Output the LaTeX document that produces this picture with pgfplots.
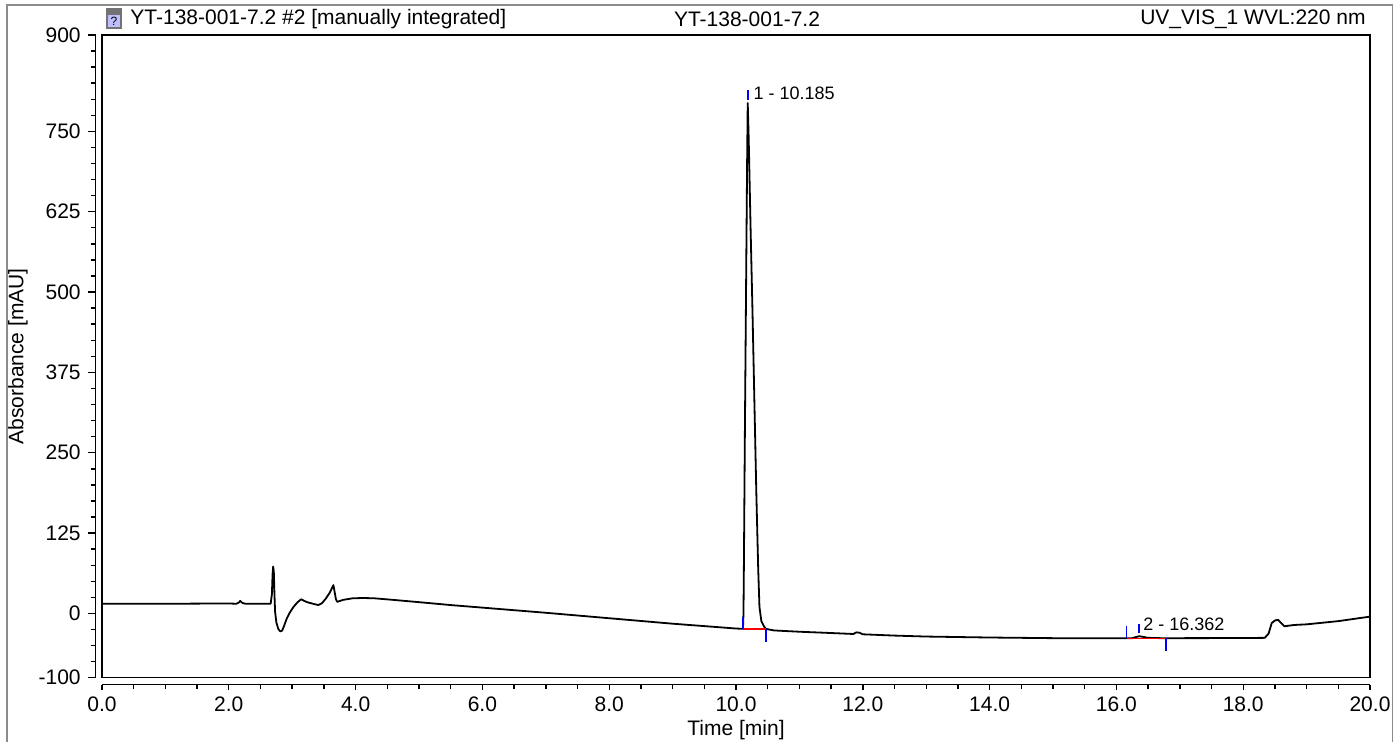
\documentclass[border=0pt]{standalone}
\usepackage{pgfplots}
\pgfplotsset{compat=1.18}
\usepackage{fontspec}
\setmainfont{Liberation Sans}
\begin{document}
\begin{tikzpicture}
\useasboundingbox (0pt,0pt) rectangle (697pt,371pt);
\draw[black!45, line width=0.8pt] (3.5pt,-3pt) -- (3.5pt,368.5pt) -- (696.3pt,368.5pt) -- (696.3pt,-3pt);
% header
\fill[black!55] (53pt,356.5pt) rectangle (61pt,367pt);
\fill[blue!25!white] (54pt,357.5pt) rectangle (60pt,363.5pt);
\node[font=\fontsize{6}{7}\selectfont, inner sep=0pt] at (57pt,360.5pt) {?};
\node[anchor=west, font=\fontsize{10.5}{12}\selectfont, inner sep=0pt] at (65pt,361.5pt) {YT-138-001-7.2 \#2 [manually integrated]};
\node[font=\fontsize{10.5}{12}\selectfont, inner sep=0pt] at (373.5pt,361.5pt) {YT-138-001-7.2};
\node[anchor=east, font=\fontsize{10.5}{12}\selectfont, inner sep=0pt] at (683pt,361.5pt) {UV\_VIS\_1 WVL:220 nm};

% x axis (offset below the frame)
\begin{axis}[at={(51pt,28.65pt)}, anchor=south west, scale only axis,
  width=634pt, height=20pt, xmin=0, xmax=20, ymin=0, ymax=1,
  axis x line*=bottom, hide y axis,
  xtick={0,2,...,20},
  xticklabels={0.0,2.0,4.0,6.0,8.0,10.0,12.0,14.0,16.0,18.0,20.0},
  minor x tick num=3, tick align=outside,
  major tick length=2.6pt, minor tick length=2.4pt,
  axis line style={line width=0.8pt}, every tick/.style={line width=0.7pt, black},
  tick label style={font=\fontsize{10.5}{12}\selectfont},
  xlabel={Time [min]},
  every axis x label/.style={at={([yshift=-22.65pt]axis description cs:0.5,0)}, anchor=center, font=\fontsize{10.5}{12}\selectfont},
]
\end{axis}

% y axis (offset left of the frame)
\begin{axis}[at={(47.85pt,32.15pt)}, anchor=south west, scale only axis,
  width=10pt, height=321.35pt, xmin=0, xmax=1, ymin=-100, ymax=900,
  axis y line*=left, hide x axis,
  ytick={-100,0,125,250,375,500,625,750,900},
  yticklabels={-100,0,125,250,375,500,625,750,900},
  minor ytick={-75,-50,-25,25,50,75,100,150,175,200,225,275,300,325,350,400,425,450,475,525,550,575,600,650,675,700,725,775,800,825,850,875},
  tick align=outside,
  major tick length=4pt, minor tick length=2.5pt,
  axis line style={line width=0.8pt}, every tick/.style={line width=0.7pt, black},
  tick label style={font=\fontsize{10.5}{12}\selectfont},
  ylabel={Absorbance [mAU]},
  every axis y label/.style={at={([xshift=-38.85pt]axis description cs:0,0.5)}, rotate=90, anchor=center, font=\fontsize{10.5}{12}\selectfont},
]
\end{axis}

% frame with data
\begin{axis}[at={(51pt,32.15pt)}, anchor=south west, scale only axis,
  width=634pt, height=321.35pt, xmin=0, xmax=20, ymin=-100, ymax=900,
  xtick=\empty, ytick=\empty, axis line style={line width=0.8pt}, clip=true]
\addplot[black, line width=0.9pt, line join=round] coordinates {
(0,15) (1,15) (2,15.5) (2.12,15) (2.16,17) (2.18,19.5) (2.21,16.5) (2.26,15) (2.5,15) (2.66,15)
(2.68,30) (2.69,60) (2.70,73) (2.71,65) (2.72,30) (2.73,3) (2.75,-14) (2.78,-24) (2.81,-28) (2.84,-27)
(2.87,-20) (2.91,-9) (2.96,1) (3.02,10) (3.08,17) (3.14,22) (3.2,19) (3.25,17) (3.33,15) (3.41,13)
(3.47,16) (3.53,23) (3.59,32) (3.63,40) (3.65,44) (3.67,33) (3.69,22) (3.71,18) (3.8,21) (3.95,23.5)
(4.12,24) (4.3,23.5) (4.6,21) (5.0,17.5) (5.5,13) (6,9) (7,1) (8,-7.5) (9,-16) (9.6,-20.5)
(10.0,-23.5) (10.11,-24) (10.118,0) (10.125,80) (10.14,280) (10.16,520) (10.175,700) (10.185,794)
(10.20,740) (10.23,600) (10.26,470) (10.29,330) (10.32,190) (10.35,70) (10.37,10) (10.40,-12)
(10.44,-20) (10.47,-24) (10.52,-25) (10.6,-26.5) (11,-28.5) (11.5,-30.5) (11.85,-32) (11.9,-29.5) (11.95,-30)
(12.0,-32.5) (12.5,-34.5) (13,-36) (14,-37.5) (15,-38.5) (16,-38.5) (16.25,-38.5) (16.3,-37)
(16.36,-35.5) (16.42,-36.5) (16.5,-38) (16.7,-38.5) (17,-38.5) (18,-38.3) (18.34,-38) (18.40,-31.5)
(18.45,-15) (18.5,-11) (18.55,-10) (18.6,-15) (18.65,-20) (18.8,-18) (19,-17) (19.5,-12) (20,-5)
};
% integration baselines
\addplot[red, line width=0.8pt] coordinates {(10.11,-24) (10.47,-24)};
\addplot[red, line width=0.8pt] coordinates {(16.16,-38.8) (16.78,-38.8)};
% peak delimiters
\addplot[blue, line width=0.8pt] coordinates {(10.11,-24) (10.11,-5)};
\addplot[blue, line width=0.8pt] coordinates {(10.47,-24) (10.47,-44)};
\addplot[blue, line width=0.8pt] coordinates {(10.185,799) (10.185,815)};
\addplot[blue, line width=0.8pt] coordinates {(16.16,-38.8) (16.16,-19.5)};
\addplot[blue, line width=0.8pt] coordinates {(16.36,-31) (16.36,-16.5)};
\addplot[blue, line width=0.8pt] coordinates {(16.78,-38.8) (16.78,-59)};
\node[anchor=west, font=\fontsize{9}{10}\selectfont, inner sep=0pt] at (axis cs:10.27,809) {1 - 10.185};
\node[anchor=west, font=\fontsize{9}{10}\selectfont, inner sep=0pt] at (axis cs:16.42,-17.5) {2 - 16.362};
\end{axis}
\end{tikzpicture}
\end{document}
